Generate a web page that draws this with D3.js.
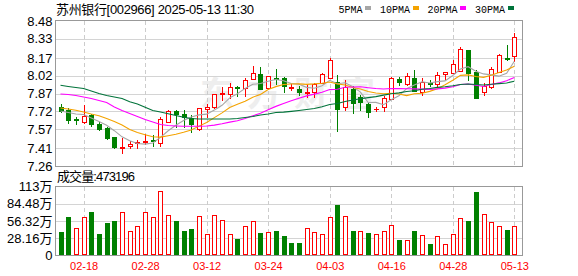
<!DOCTYPE html>
<html><head><meta charset="utf-8">
<script src="https://cdn.jsdelivr.net/npm/d3@7"></script>
<style>html,body{margin:0;padding:0;background:#fff;}svg{display:block}</style>
</head><body><svg id="c" width="578" height="276"></svg>
<script>
const title = "苏州银行[002966] 2025-05-13 11:30";
const volumeTitle = "成交量:473196";
const dates = ["02-13","02-14","02-17","02-18","02-19","02-20","02-21","02-24","02-25","02-26","02-27","02-28",
"03-03","03-04","03-05","03-06","03-07","03-10","03-11","03-12","03-13","03-14","03-17","03-18","03-19","03-20","03-21","03-24","03-25","03-26","03-27","03-28","03-31",
"04-01","04-02","04-03","04-07","04-08","04-09","04-10","04-11","04-14","04-15","04-16","04-17","04-18","04-21","04-22","04-23","04-24","04-25","04-28","04-29","04-30",
"05-06","05-07","05-08","05-09","05-12","05-13"];
const open = [7.756,7.731,7.655,7.633,7.689,7.613,7.577,7.501,7.415,7.426,
 7.455,7.465,7.478,7.451,7.633,7.725,7.697,7.667,7.574,7.74,
 7.754,7.862,7.863,7.925,7.919,7.99,8.034,7.914,8.003,7.998,
 7.918,7.908,7.878,7.88,7.961,8.003,7.97,7.759,7.908,7.843,
 7.782,7.737,7.756,7.821,7.992,7.947,8.003,7.885,7.96,7.947,
 8.031,8.04,8.059,8.236,8.048,7.88,7.922,8.053,8.171,8.188];
const high = [7.782,7.745,7.675,7.773,7.70,7.63,7.59,7.505,7.493,7.47,
 7.48,7.53,7.52,7.67,7.73,7.73,7.73,7.69,7.745,7.78,
 7.87,7.927,7.96,7.93,8.00,8.10,8.09,8.02,8.076,8.01,
 7.95,7.93,7.95,7.96,8.04,8.17,8.026,7.98,7.93,7.857,
 7.79,7.76,7.85,8.01,8.01,8.04,8.07,7.998,7.98,8.05,
 8.05,8.15,8.26,8.24,8.07,7.96,8.09,8.20,8.278,8.376];
const low = [7.717,7.624,7.611,7.624,7.60,7.56,7.49,7.415,7.372,7.41,
 7.41,7.445,7.43,7.43,7.63,7.59,7.59,7.55,7.565,7.67,
 7.75,7.815,7.83,7.85,7.85,7.99,7.908,7.91,7.947,7.88,
 7.90,7.86,7.84,7.84,7.96,8.00,7.557,7.73,7.71,7.731,
 7.67,7.72,7.72,7.82,7.94,7.94,7.89,7.86,7.93,7.93,
 7.99,8.04,8.059,7.98,7.83,7.86,7.92,8.05,8.152,8.146];
const close = [7.723,7.65,7.65,7.678,7.616,7.574,7.498,7.42,7.42,7.448,
 7.462,7.47,7.47,7.655,7.725,7.697,7.67,7.613,7.745,7.756,
 7.868,7.872,7.925,7.918,7.981,8.04,7.908,8.017,7.992,7.93,
 7.922,7.88,7.884,7.953,8.034,8.152,7.737,7.927,7.79,7.80,
 7.717,7.742,7.83,7.998,7.97,8.015,7.891,7.97,7.947,8.026,
 8.048,8.116,8.242,8.045,7.835,7.936,8.074,8.19,8.163,8.343];
// volume in 万 (10k)
const volume = [37.9,62.6,44.0,62.1,70.9,34.6,52.8,56.0,70.3,39.0,
 47.8,70.3,62.1,105.5,65.4,56.0,39.6,42.9,63.7,34.1,
 65.4,57.1,34.1,26.4,47.8,55.5,36.3,37.4,39.6,31.3,
 19.8,19.8,44.0,37.4,34.1,62.1,82.4,63.7,39.0,39.0,
 35.7,34.1,39.0,48.9,24.7,24.2,39.0,32.4,17.6,30.8,
 17.6,34.1,60.4,56.0,103.9,67.0,53.9,47.3,41.2,47.32];
// MA values at the start of the window (prior history not shown)
const ma5Head = [7.723,7.71,7.697,7.693];
const ma10Head = [7.748,7.740,7.729,7.714,7.697,7.683,7.66,7.634,7.605];
const ma20Head = [7.866,7.862,7.853,7.841,7.828,7.811,7.794,7.756,7.727,7.702,7.676,7.651,7.63,7.609,7.601,7.597,7.594,7.594,7.594];
const ma30Head = [7.939,7.929,7.92,7.912,7.891,7.87,7.853,7.841,7.828,7.801,7.782,7.754,7.727,7.715,7.70,7.685,7.67,7.66,7.655,7.655,7.655,7.655,7.655,7.66,7.668,7.676,7.689,7.697,7.71];
const maPeriods = [5,10,20,30];
const maNames = ["5PMA","10PMA","20PMA","30PMA"];
const maColors = ["#a6a6a6","#f4a300","#ff00ff","#00733a"];
const priceTicks = [8.48,8.33,8.17,8.02,7.87,7.72,7.57,7.41,7.26];
const volTickValues = [0,28.16,56.32,84.48,112.64];
const volTickLabels = ["0","28.16万","56.32万","84.48万","113万"];
const xTickLabels = ["02-18","02-28","03-12","03-24","04-03","04-16","04-28","05-13"];

const RED = "#ff0000", GREEN = "#008000";
const svg = d3.select("#c");
const L = 56, R = 522, PT = 21, PB = 166, VT = 186.7, VB = 255;

const x = d3.scalePoint().domain(dates).range([60.5, 514.3]);
const yP = d3.scaleLinear().domain([7.26, 8.48]).range([PB, PT]);
const yV = d3.scaleLinear().domain([0, 112.64]).range([VB, VT]);

// watermark
svg.append("text").attr("x", 200).attr("y", 106).attr("textLength", 175)
  .attr("font-family", "Noto Sans CJK SC").attr("font-weight", "bold").attr("font-size", 34)
  .attr("fill", "#eeeeee").text("东方财富");

// grids
const gP = svg.append("g").attr("shape-rendering", "crispEdges");
gP.selectAll("line.h").data(priceTicks.slice(1, -1)).join("line")
  .attr("x1", L).attr("x2", R).attr("y1", d => Math.round(yP(d)) + 0.5).attr("y2", d => Math.round(yP(d)) + 0.5)
  .attr("stroke", "#d4d4d4");
gP.selectAll("line.hv").data(volTickValues.slice(1, -1)).join("line")
  .attr("x1", L).attr("x2", R).attr("y1", d => Math.round(yV(d)) + 0.5).attr("y2", d => Math.round(yV(d)) + 0.5)
  .attr("stroke", "#d4d4d4");
xTickLabels.forEach(lbl => {
  const xx = Math.round(x(lbl)) + 0.5;
  [[PT, PB], [VT, VB]].forEach(([a, b]) => {
    gP.append("line").attr("x1", xx).attr("x2", xx).attr("y1", a).attr("y2", b)
      .attr("stroke", "#cccccc").attr("stroke-dasharray", "4,3");
  });
});

// MA lines
const maSeries = maPeriods.map((n, k) => {
  const head = [ma5Head, ma10Head, ma20Head, ma30Head][k];
  return close.map((c, i) => i < n - 1 ? head[i] : d3.mean(close.slice(i - n + 1, i + 1)));
});

// candles
const cg = svg.append("g").attr("shape-rendering", "crispEdges");
dates.forEach((d, i) => {
  const cx = Math.round(x(d));
  const o = open[i], c = close[i];
  const up = c > o || (c === o && (i === 0 || c >= close[i - 1]));
  const col = up ? RED : GREEN;
  cg.append("line").attr("x1", cx + 0.5).attr("x2", cx + 0.5)
    .attr("y1", Math.round(yP(high[i]))).attr("y2", Math.round(yP(low[i])) + 1).attr("stroke", col);
  const t = Math.round(yP(Math.max(o, c))), b = Math.round(yP(Math.min(o, c)));
  if (b - t < 2) {
    cg.append("rect").attr("x", cx - 2).attr("y", t).attr("width", 5).attr("height", Math.max(1, b - t + 1)).attr("fill", col);
  } else if (up) {
    cg.append("rect").attr("x", cx - 1.5).attr("y", t + 0.5).attr("width", 4).attr("height", b - t)
      .attr("fill", "#fff").attr("stroke", col);
  } else {
    cg.append("rect").attr("x", cx - 2).attr("y", t).attr("width", 5).attr("height", b - t + 1).attr("fill", col);
  }
  // volume
  const vup = i === 0 ? up : c >= close[i - 1];
  const vt = Math.round(yV(volume[i]));
  if (vup) {
    cg.append("rect").attr("x", cx - 1.5).attr("y", vt + 0.5).attr("width", 4).attr("height", VB - vt - 1)
      .attr("fill", "#fff").attr("stroke", RED);
  } else {
    cg.append("rect").attr("x", cx - 2).attr("y", vt).attr("width", 5).attr("height", VB - vt).attr("fill", GREEN);
  }
});

const line = d3.line().x((v, i) => x(dates[i])).y(v => yP(v));
maSeries.forEach((s, k) => {
  svg.append("path").attr("d", line(s)).attr("fill", "none").attr("stroke", maColors[k]).attr("stroke-width", 1.1);
});

// borders
const bg = svg.append("g").attr("shape-rendering", "crispEdges").attr("fill", "none").attr("stroke", "#999");
bg.append("rect").attr("x", L - 0.5).attr("y", PT - 0.5).attr("width", R - L + 1).attr("height", PB - PT + 1);
bg.append("rect").attr("x", L - 0.5).attr("y", Math.round(VT) - 0.5).attr("width", R - L + 1).attr("height", VB - Math.round(VT) + 1);

// axes
const ax1 = svg.append("g").attr("transform", `translate(${L - 0.5},0)`)
  .call(d3.axisLeft(yP).tickValues(priceTicks).tickSize(0).tickPadding(3).tickFormat(d3.format(".2f")));
const ax2 = svg.append("g").attr("transform", `translate(${L - 0.5},0)`)
  .call(d3.axisLeft(yV).tickValues(volTickValues).tickSize(0).tickPadding(3).tickFormat((v, i) => volTickLabels[i]));
[ax1, ax2].forEach(a => {
  a.select(".domain").remove();
  a.attr("font-family", "'Liberation Sans','Noto Sans CJK SC',sans-serif").attr("font-size", 13);
  a.selectAll("text").attr("fill", "#000");
});
const ax3 = svg.append("g").attr("transform", `translate(0,${VB})`)
  .call(d3.axisBottom(x).tickValues(xTickLabels).tickSize(0).tickPadding(7));
ax3.select(".domain").remove();
ax3.attr("font-family", "'Liberation Sans',sans-serif").attr("font-size", 11);
ax3.selectAll("text").attr("fill", RED);

// title
svg.append("text").attr("x", 56).attr("y", 13.5).attr("textLength", 198)
  .attr("font-family", "'Liberation Sans','Noto Sans CJK SC',sans-serif").attr("font-size", 13)
  .attr("fill", "#000").text(title);
svg.append("text").attr("x", 57).attr("y", 181).attr("textLength", 78)
  .attr("font-family", "'Liberation Sans','Noto Sans CJK SC',sans-serif").attr("font-size", 13)
  .attr("fill", "#000").text(volumeTitle);

// legend
let lx = 338.5;
maNames.forEach((nm, k) => {
  const t = svg.append("text").attr("x", lx).attr("y", 12.5)
    .attr("font-family", "'Liberation Mono',monospace").attr("font-size", 10).attr("fill", "#000").text(nm);
  const w = t.node().getComputedTextLength();
  svg.append("rect").attr("x", Math.round(lx + w + 2.5)).attr("y", 6).attr("width", 6).attr("height", 4)
    .attr("fill", maColors[k]).attr("shape-rendering", "crispEdges");
  lx = lx + w + 2.5 + 6 + 9;
});
</script></body></html>
